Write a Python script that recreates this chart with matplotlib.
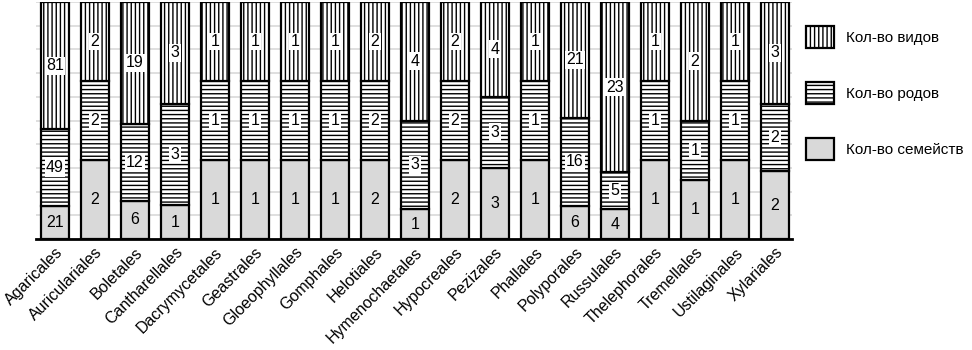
import numpy as np
import matplotlib.pyplot as plt
from matplotlib.patches import Patch

plt.rcParams['font.family'] = ['Liberation Sans', 'DejaVu Sans']
plt.rcParams['hatch.linewidth'] = 1.0

orders = ['Agaricales', 'Auriculariales', 'Boletales', 'Cantharellales', 'Dacrymycetales',
          'Geastrales', 'Gloeophyllales', 'Gomphales', 'Helotiales', 'Hymenochaetales',
          'Hypocreales', 'Pezizales', 'Phallales', 'Polyporales', 'Russulales',
          'Thelephorales', 'Tremellales', 'Ustilaginales', 'Xylariales']
families = [21, 2, 6, 1, 1, 1, 1, 1, 2, 1, 2, 3, 1, 6, 4, 1, 1, 1, 2]
genera = [49, 2, 12, 3, 1, 1, 1, 1, 2, 3, 2, 3, 1, 16, 5, 1, 1, 1, 2]
species = [81, 2, 19, 3, 1, 1, 1, 1, 2, 4, 2, 4, 1, 21, 23, 1, 2, 1, 3]

series = [
    ('Кол-во семейств', families, '#d9d9d9', ''),
    ('Кол-во родов', genera, 'white', '----'),
    ('Кол-во видов', species, 'white', '||||'),
]

fs = 11.5

fig = plt.figure(figsize=(9.72, 3.5), dpi=100)
ax = fig.add_axes([36 / 972, 1 - 239 / 350, 756 / 972, 237 / 350])

x = np.arange(len(orders))
totals = np.array(families) + np.array(genera) + np.array(species)
bottom = np.zeros(len(orders))
handles = []
for name, vals, color, hatch in series:
    share = np.array(vals) / totals * 100
    ax.bar(x, share, 0.7, bottom=bottom, color=color, edgecolor='black',
           linewidth=1.6, hatch=hatch, zorder=2)
    for xi, b, h, v in zip(x, bottom, share, vals):
        box = dict(facecolor='white', edgecolor='none', pad=1.0) if hatch else None
        ax.text(xi, b + h / 2, str(v), ha='center', va='center', fontsize=fs,
                bbox=box, zorder=3)
    bottom += share
    handles.append(Patch(facecolor=color, edgecolor='black', linewidth=1.6,
                         hatch=hatch, label=name))

ax.set_xlim(-0.475, len(orders) - 1 + 0.425)
ax.set_ylim(0, 100)
ax.set_yticks(np.arange(0, 101, 10))
ax.yaxis.grid(True, color='#d9d9d9', linewidth=1.2, zorder=0)
ax.set_yticklabels([])
ax.tick_params(axis='y', length=0)
ax.tick_params(axis='x', length=0, pad=4)
ax.set_xticks(x)
ax.set_xticklabels(orders, rotation=45, ha='right', rotation_mode='anchor', fontsize=fs)
for side in ['left', 'right', 'top']:
    ax.spines[side].set_visible(False)
ax.spines['bottom'].set_linewidth(2)

fig.legend(handles=handles[::-1], loc='upper left', bbox_to_anchor=(800 / 972, 1 - 20 / 350),
           frameon=False, fontsize=11, handlelength=1.85, handleheight=1.85,
           handletextpad=0.75, labelspacing=2.2, borderpad=0.4, borderaxespad=0)

fig.savefig('out.png', dpi=100)
